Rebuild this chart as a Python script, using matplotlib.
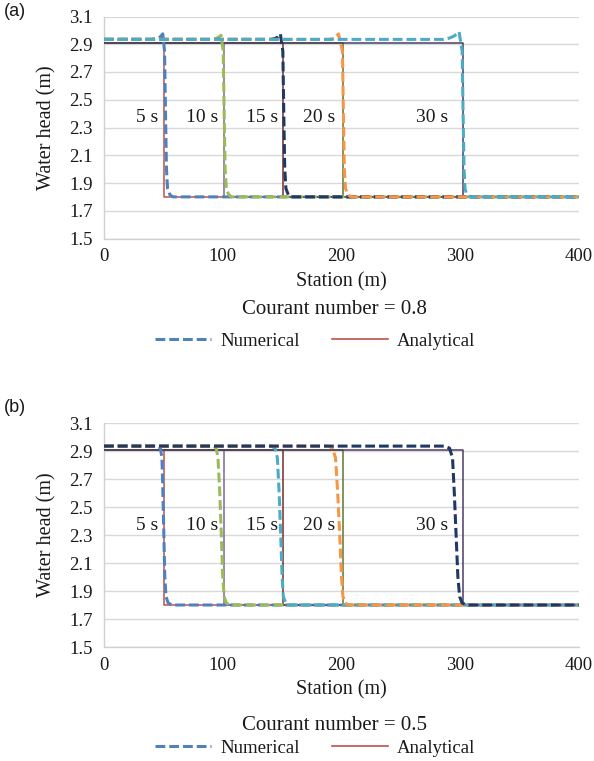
import matplotlib
matplotlib.use("Agg")
import matplotlib.pyplot as plt
from matplotlib.lines import Line2D

# ---------------- data ----------------
times = ["5 s", "10 s", "15 s", "20 s", "30 s"]

# analytical dam-break solution: upstream level, downstream level, front position (m)
ana_upper = 2.91
ana_lower = 1.80
ana_front = [50.3, 100.7, 151.0, 201.3, 302.0]

# text positions for time labels (right edge x in m, y in m)
label_x = [45.5, 96.0, 146.5, 195.0, 290.0]
label_y = 2.37

# numerical results, Courant number = 0.8 (sharp front with small overshoot)
num_a_x = [
    [0, 40, 44, 47, 49.5, 51.0, 51.8, 52.6, 53.5, 55.5, 58, 400],
    [0, 91, 94, 96.5, 98.5, 100.4, 101.2, 102.0, 103.0, 105.0, 107.5, 400],
    [0, 140, 143.5, 146, 148.5, 150.6, 151.4, 152.2, 153.2, 155.2, 157.5, 400],
    [0, 189, 192.5, 195, 197.5, 200.8, 201.6, 202.4, 203.4, 205.4, 208, 400],
    [0, 286, 291, 295, 299.0, 301.6, 302.4, 303.2, 304.0, 305.5, 308, 400],
]
num_a_y = [
    [2.935, 2.935, 2.94, 2.95, 2.975, 2.85, 2.40, 2.00, 1.86, 1.815, 1.80, 1.80],
    [2.935, 2.935, 2.94, 2.95, 2.965, 2.85, 2.40, 2.00, 1.86, 1.815, 1.80, 1.80],
    [2.935, 2.935, 2.94, 2.95, 2.975, 2.85, 2.40, 2.00, 1.86, 1.815, 1.80, 1.80],
    [2.935, 2.935, 2.94, 2.95, 2.975, 2.85, 2.40, 2.00, 1.86, 1.815, 1.80, 1.80],
    [2.935, 2.935, 2.945, 2.96, 2.99, 2.85, 2.40, 2.00, 1.86, 1.815, 1.80, 1.80],
]

# numerical results, Courant number = 0.5 (smeared front)
num_b_x = [
    [0, 45, 47.5, 48.8, 49.6, 50.4, 51.2, 52.2, 54, 57, 400],
    [0, 92, 94.5, 96.0, 97.5, 98.8, 100.0, 101.2, 103, 106, 400],
    [0, 141, 144, 146.0, 147.5, 148.8, 150.0, 151.0, 153, 156, 400],
    [0, 189, 192.5, 195.0, 196.8, 198.5, 200.0, 201.2, 203, 206, 400],
    [0, 287, 291, 293.5, 295.0, 296.5, 298.0, 299.5, 301.5, 305, 400],
]
num_b_y = [
    [2.935, 2.935, 2.92, 2.85, 2.60, 2.30, 2.00, 1.86, 1.815, 1.80, 1.80],
    [2.935, 2.935, 2.92, 2.85, 2.60, 2.30, 2.00, 1.86, 1.815, 1.80, 1.80],
    [2.935, 2.935, 2.92, 2.85, 2.60, 2.30, 2.00, 1.86, 1.815, 1.80, 1.80],
    [2.935, 2.935, 2.92, 2.85, 2.60, 2.30, 2.00, 1.86, 1.815, 1.80, 1.80],
    [2.935, 2.935, 2.92, 2.85, 2.60, 2.30, 2.00, 1.86, 1.815, 1.80, 1.80],
]

x_ticks = [0, 100, 200, 300, 400]
y_ticks = [1.5, 1.7, 1.9, 2.1, 2.3, 2.5, 2.7, 2.9, 3.1]
y_tick_labels = ["1.5", "1.7", "1.9", "2.1", "2.3", "2.5", "2.7", "2.9", "3.1"]

# ---------------- styles ----------------
ana_colors = ["#C0504D", "#8064A2", "#772C2A", "#5F7530", "#4D3B62"]
num_colors_a = ["#4F81BD", "#9BBB59", "#1F3864", "#F79646", "#4BACC6"]
num_colors_b = ["#4F81BD", "#9BBB59", "#4BACC6", "#F79646", "#1F3864"]

SERIF = ["Liberation Serif", "DejaVu Serif"]
SANS = ["Liberation Sans", "DejaVu Sans"]
TXT = "#1a1a1a"
W, H = 594, 761


def fx(px):
    return px / W


def fy(py):
    return 1 - py / H


fig = plt.figure(figsize=(W / 100, H / 100), dpi=100)


def draw_panel(ax, nx, ny, ncolors):
    for i in range(len(times)):
        xf = ana_front[i]
        ax.plot([0, xf, xf, 400], [ana_upper, ana_upper, ana_lower, ana_lower],
                color=ana_colors[i], lw=1.1, zorder=3)
    for i in range(len(times)):
        ax.plot(nx[i], ny[i], color=ncolors[i], lw=2.2, dashes=(3.2, 1.3),
                zorder=4)
    for i, t in enumerate(times):
        ax.text(label_x[i], label_y, t, ha="right", va="center",
                family=SERIF, fontsize=14, color=TXT, zorder=5)
    ax.set_xlim(0, 400)
    ax.set_ylim(1.5, 3.1)
    ax.set_xticks(x_ticks)
    ax.set_xticklabels([str(v) for v in x_ticks], family=SERIF, fontsize=13.5)
    ax.set_yticks(y_ticks)
    ax.set_yticklabels(y_tick_labels, family=SERIF, fontsize=13.5)
    ax.tick_params(length=0, colors=TXT)
    ax.tick_params(axis="y", pad=8)
    ax.tick_params(axis="x", pad=7)
    ax.grid(axis="y", color="#D9D9D9", lw=1)
    ax.set_axisbelow(True)
    for s in ("top", "right"):
        ax.spines[s].set_visible(False)
    for s in ("left", "bottom"):
        ax.spines[s].set_color("#D0D0D0")
        ax.spines[s].set_linewidth(1)


ax_a = fig.add_axes([fx(104), fy(238.5), fx(475), 222 / H])
ax_b = fig.add_axes([fx(104), fy(647), fx(475), 224 / H])
draw_panel(ax_a, num_a_x, num_a_y, num_colors_a)
draw_panel(ax_b, num_b_x, num_b_y, num_colors_b)

for ax, bottom, courant, courant_y, leg_y, tag, tag_y in [
    (ax_a, 238.5, "Courant number = 0.8", 310, 341, "(a)", 12),
    (ax_b, 647, "Courant number = 0.5", 725, 748, "(b)", 407),
]:
    ax.set_ylabel("Water head (m)", family=SERIF, fontsize=14.5, color=TXT)
    ax.yaxis.set_label_coords((56 - 104) / 475, 0.5)
    fig.text(fx(341), fy(bottom + 43), "Station (m)", ha="center", va="center",
             family=SERIF, fontsize=14.5, color=TXT)
    fig.text(fx(334), fy(courant_y), courant, ha="center", va="center",
             family=SERIF, fontsize=15, color=TXT)
    fig.text(fx(4), fy(tag_y), tag, ha="left", va="center",
             family=SANS, fontsize=13, color=TXT)
    handles = [
        Line2D([], [], color="#4F81BD", lw=2.2, dashes=(3.2, 1.3)),
        Line2D([], [], color="#C0504D", lw=1.2),
    ]
    fig.legend(handles, ["Numerical", "Analytical"], loc="center",
               bbox_to_anchor=(fx(315), fy(leg_y)), ncol=2, frameon=False,
               prop={"family": SERIF, "size": 13.5}, handlelength=3.0,
               handletextpad=0.5, columnspacing=1.7, borderpad=0,
               labelcolor=TXT)

fig.savefig("out.png", dpi=100)
